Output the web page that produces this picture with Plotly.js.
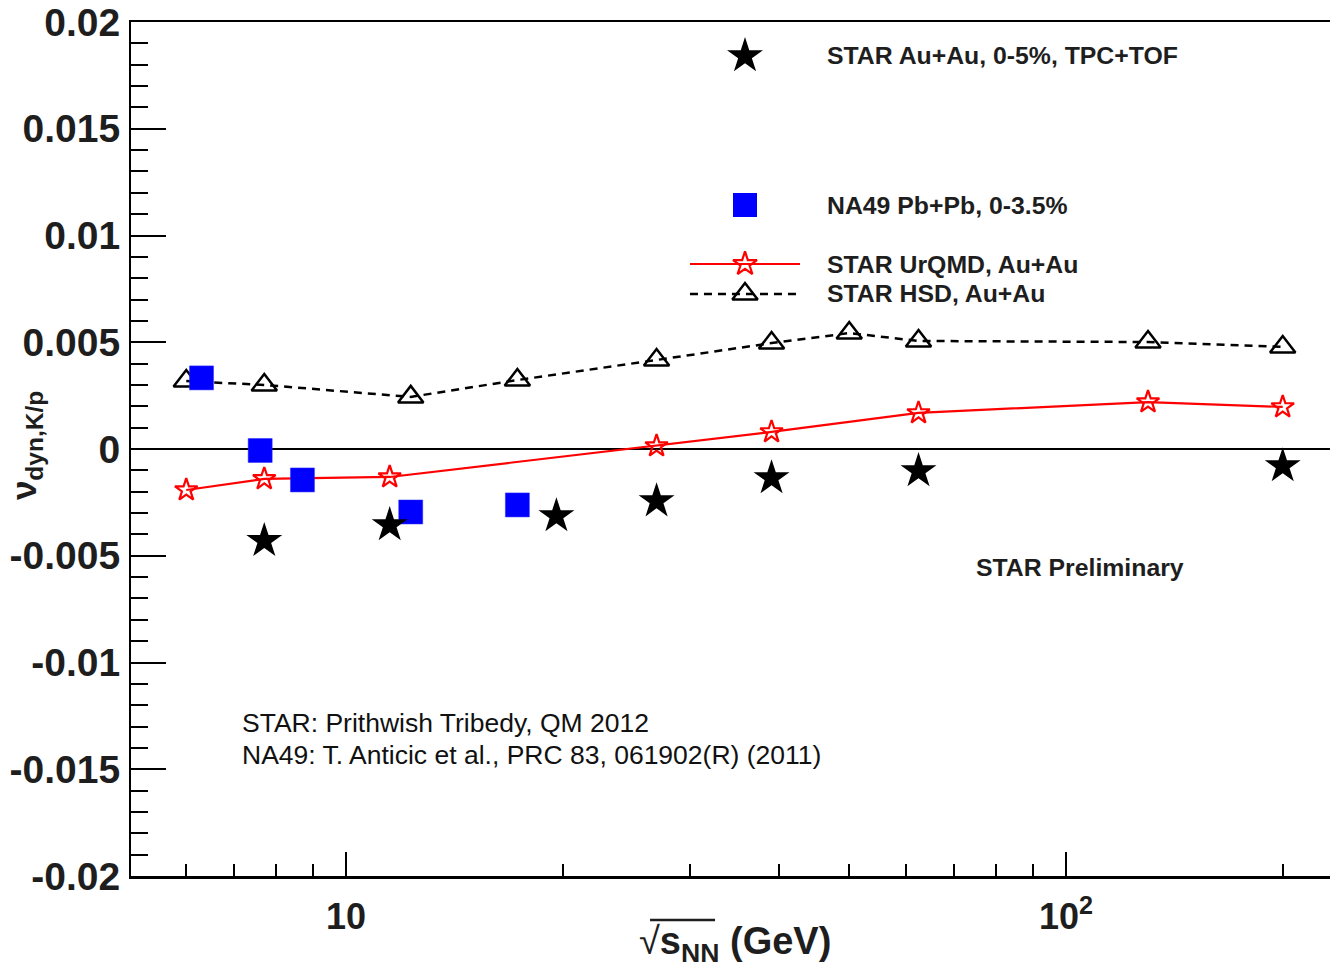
<!DOCTYPE html>
<html>
<head>
<meta charset="utf-8">
<script src="https://cdn.plot.ly/plotly-3.0.1.min.js"></script>
<style>html,body{margin:0;padding:0;background:#fff;overflow:hidden}</style>
</head>
<body>
<div id="chart" style="width:1330px;height:967px"></div>
<script>
// ---- data ----
var starEnergy = [7.7, 11.5, 19.6, 27, 39, 62.4, 200];
var starValue  = [-0.0043, -0.00356, -0.00314, -0.00244, -0.00136, -0.00103, -0.0008];

var na49Energy = [6.3, 7.6, 8.7, 12.3, 17.3];
var na49Value  = [0.00333, -0.00007, -0.00145, -0.00295, -0.00262];

var urqmdEnergy = [6.0, 7.7, 11.5, 27, 39, 62.4, 130, 200];
var urqmdValue  = [-0.00192, -0.0014, -0.00131, 0.00014, 0.0008, 0.00169, 0.0022, 0.00197];

var hsdEnergy = [6.0, 7.7, 12.3, 17.3, 27, 39, 50, 62.4, 130, 200];
var hsdValue  = [0.00318, 0.0030, 0.00244, 0.00323, 0.00417, 0.00496, 0.00543, 0.00506, 0.00501, 0.00478];

var xTickVals = [10, 100];
var xTickText = ['10', '10<sup>2</sup>'];
var xMinorVals = [6, 7, 8, 9, 20, 30, 40, 50, 60, 70, 80, 90, 200];

var yTickVals = [0.02, 0.015, 0.01, 0.005, 0, -0.005, -0.01, -0.015, -0.02];
var yTickText = ['0.02', '0.015', '0.01', '0.005', '0', '-0.005', '-0.01', '-0.015', '-0.02'];

var legendNames = ['STAR Au+Au, 0-5%, TPC+TOF', 'NA49 Pb+Pb, 0-3.5%', 'STAR UrQMD, Au+Au', 'STAR HSD, Au+Au'];
var noteLines = ['STAR: Prithwish Tribedy, QM 2012', 'NA49: T. Anticic et al., PRC 83, 061902(R) (2011)'];
var prelimText = 'STAR Preliminary';

// ---- styling / layout ----
var yMinor = [];
for (var k = -20; k <= 20; k++) { if (k % 5 !== 0) yMinor.push(k / 1000); }

var FONT = 'Liberation Sans, Arial, Helvetica, sans-serif';
var TXT = '#1e1e1e';

// legend key positions (fractions of the plot area)
var legKeyX = 0.5121, legLineX0 = 0.4662, legLineX1 = 0.558, legTextX = 0.5788;
var legRowY = [0.9602, 0.7857, 0.7166, 0.6815];

var traces = [
  {x: hsdEnergy, y: hsdValue, mode: 'lines+markers', type: 'scatter',
   line: {color: '#000', width: 2.5, dash: '8px,6px'},
   marker: {symbol: 'triangle-up-open', size: 22, color: '#000', line: {color: '#000', width: 2.5}},
   showlegend: false, cliponaxis: false},
  {x: urqmdEnergy, y: urqmdValue, mode: 'lines+markers', type: 'scatter',
   line: {color: '#ff0000', width: 2.2},
   marker: {symbol: 'star-open', size: 17, color: '#ff0000', line: {color: '#ff0000', width: 2.2}},
   showlegend: false, cliponaxis: false},
  {x: na49Energy, y: na49Value, mode: 'markers', type: 'scatter',
   marker: {symbol: 'square', size: 24, color: '#0000ff', line: {color: '#2a2aff', width: 0.5}},
   showlegend: false, cliponaxis: false},
  {x: starEnergy, y: starValue, mode: 'markers', type: 'scatter',
   marker: {symbol: 'star', size: 27, color: '#000', line: {width: 0}},
   showlegend: false, cliponaxis: false},
  // legend keys on an overlay axis
  {x: [legKeyX], y: [legRowY[0]], xaxis: 'x2', yaxis: 'y2', mode: 'markers', type: 'scatter',
   marker: {symbol: 'star', size: 27, color: '#000', line: {width: 0}}, showlegend: false, hoverinfo: 'skip'},
  {x: [legKeyX], y: [legRowY[1]], xaxis: 'x2', yaxis: 'y2', mode: 'markers', type: 'scatter',
   marker: {symbol: 'square', size: 24, color: '#0000ff'}, showlegend: false, hoverinfo: 'skip'},
  {x: [legLineX0, legLineX1], y: [legRowY[2], legRowY[2]], xaxis: 'x2', yaxis: 'y2', mode: 'lines', type: 'scatter',
   line: {color: '#ff0000', width: 2.2}, showlegend: false, hoverinfo: 'skip'},
  {x: [legKeyX], y: [legRowY[2]], xaxis: 'x2', yaxis: 'y2', mode: 'markers', type: 'scatter',
   marker: {symbol: 'star-open', size: 18, color: '#ff0000', line: {color: '#ff0000', width: 2.2}}, showlegend: false, hoverinfo: 'skip'},
  {x: [legLineX0, legLineX1], y: [legRowY[3], legRowY[3]], xaxis: 'x2', yaxis: 'y2', mode: 'lines', type: 'scatter',
   line: {color: '#000', width: 2.5, dash: '8px,6px'}, showlegend: false, hoverinfo: 'skip'},
  {x: [legKeyX], y: [legRowY[3]], xaxis: 'x2', yaxis: 'y2', mode: 'markers', type: 'scatter',
   marker: {symbol: 'triangle-up-open', size: 22, color: '#000', line: {color: '#000', width: 2.5}}, showlegend: false, hoverinfo: 'skip'}
];

var annotations = [];
legendNames.forEach(function (t, i) {
  annotations.push({text: '<b>' + t + '</b>', xref: 'paper', yref: 'paper', x: legTextX, y: legRowY[i],
    xanchor: 'left', yanchor: 'middle', showarrow: false, font: {family: FONT, size: 24.8, color: TXT}});
});
annotations.push({text: '<b>' + prelimText + '</b>', xref: 'paper', yref: 'paper', x: 0.7027, y: 0.3618,
  xanchor: 'left', yanchor: 'middle', showarrow: false, font: {family: FONT, size: 24.8, color: TXT}});
annotations.push({text: noteLines[0], xref: 'paper', yref: 'paper', x: 0.0905, y: 0.1792,
  xanchor: 'left', yanchor: 'middle', showarrow: false, font: {family: FONT, size: 26.5, color: '#111'}});
annotations.push({text: noteLines[1], xref: 'paper', yref: 'paper', x: 0.0905, y: 0.1417,
  xanchor: 'left', yanchor: 'middle', showarrow: false, font: {family: FONT, size: 26.5, color: '#111'}});
// axis titles
annotations.push({text: '<b>ν<sub>dyn,K/p</sub></b>', xref: 'paper', yref: 'paper', x: -0.0875, y: 0.5035,
  xanchor: 'center', yanchor: 'middle', textangle: -90, showarrow: false, font: {family: FONT, size: 35, color: TXT}});
annotations.push({text: '√<b>s<sub>NN</sub> (GeV)</b>', xref: 'paper', yref: 'paper', x: 0.5038, y: -0.0800,
  xanchor: 'center', yanchor: 'middle', showarrow: false, font: {family: FONT, size: 38, color: TXT}});

var layout = {
  width: 1330, height: 967,
  margin: {l: 131, r: 0, t: 22, b: 91, pad: 0},
  paper_bgcolor: '#fff', plot_bgcolor: '#fff',
  showlegend: false,
  xaxis: {
    type: 'log', range: [0.70139, 2.3667], domain: [0, 1],
    tickmode: 'array', tickvals: xTickVals, ticktext: xTickText,
    ticks: 'inside', ticklen: 24, tickwidth: 2, tickcolor: '#000',
    minor: {tickmode: 'array', tickvals: xMinorVals, ticks: 'inside', ticklen: 12, tickwidth: 2, tickcolor: '#000', showgrid: false},
    showline: true, linecolor: '#000', linewidth: 2.5, mirror: true,
    showgrid: false, zeroline: false,
    tickfont: {family: FONT, size: 36, color: TXT, weight: 'bold'},
    ticklabelstandoff: 7
  },
  yaxis: {
    range: [-0.02, 0.02], domain: [0, 1],
    tickmode: 'array', tickvals: yTickVals, ticktext: yTickText,
    ticks: 'inside', ticklen: 35, tickwidth: 2, tickcolor: '#000',
    minor: {tickmode: 'array', tickvals: yMinor, ticks: 'inside', ticklen: 17, tickwidth: 2, tickcolor: '#000', showgrid: false},
    showline: true, linecolor: '#000', linewidth: 2, mirror: false,
    showgrid: false, zeroline: true, zerolinecolor: '#000', zerolinewidth: 2,
    tickfont: {family: FONT, size: 39, color: TXT, weight: 'bold'},
    ticklabelstandoff: 1
  },
  xaxis2: {overlaying: 'x', anchor: 'y2', range: [0, 1], visible: false, fixedrange: true},
  yaxis2: {overlaying: 'y', anchor: 'x2', range: [0, 1], visible: false, fixedrange: true},
  annotations: annotations,
  shapes: [
    {type: 'line', xref: 'paper', yref: 'paper', x0: 0.4329, x1: 0.4871, y0: -0.0515, y1: -0.0515,
     line: {color: TXT, width: 2.5}}
  ]
};

Plotly.newPlot('chart', traces, layout, {displayModeBar: false, staticPlot: true});
</script>
</body>
</html>
